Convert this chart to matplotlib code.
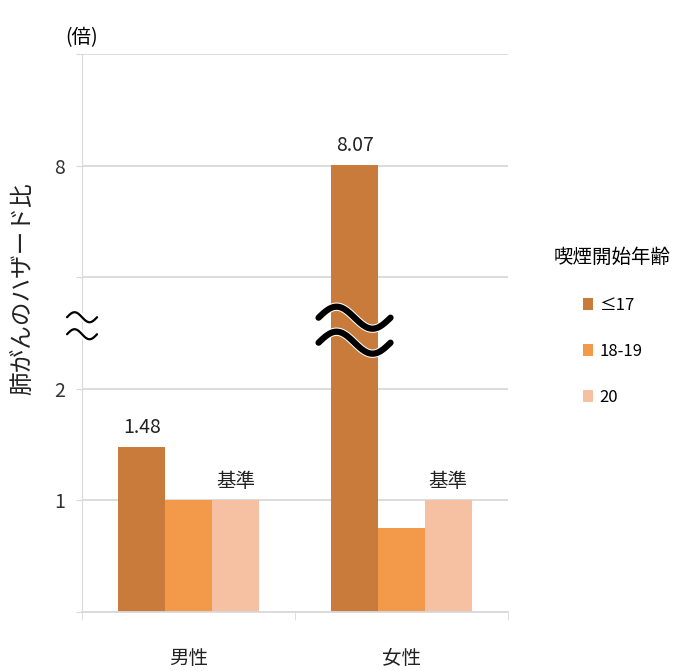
import numpy as np
import matplotlib.pyplot as plt
import matplotlib.patheffects as pe
from matplotlib.transforms import ScaledTranslation, blended_transform_factory

plt.rcParams['font.family'] = ['Noto Sans CJK JP', 'DejaVu Sans']

# データ
grupos = ['男性', '女性']
edades = ['≤17', '18-19', '20']
hr_hombres = [1.48, 1.0, 1.0]
hr_mujeres = [8.07, 0.75, 1.0]
etiquetas_hombres = ['1.48', '', '基準']
etiquetas_mujeres = ['8.07', '', '基準']
colores = ['#C97B3C', '#F2994A', '#F6C0A2']

ticks_y = [0, 1, 2, 6, 8, 16]
ticks_y_txt = ['', '1', '2', '', '8', '']


# eje con corte: 0-2 lineal, 2-6 y 6-8 comprimidos, 8-16 en un solo tramo
def adelante(v):
    v = np.asarray(v, dtype=float)
    return np.where(v <= 2, v,
                    np.where(v <= 6, 2 + (v - 2) / 4,
                             np.where(v <= 8, 3 + (v - 6) / 2, 4 + (v - 8) / 8)))


def inversa(u):
    u = np.asarray(u, dtype=float)
    return np.where(u <= 2, u,
                    np.where(u <= 3, 2 + (u - 2) * 4,
                             np.where(u <= 4, 6 + (u - 3) * 2, 8 + (u - 4) * 8)))


fig = plt.figure(figsize=(6.78, 6.71), dpi=100)
ax = fig.add_axes([0.121, 0.088, 0.628, 0.8315])
ax.set_yscale('function', functions=(adelante, inversa))
ax.set_ylim(0, 16)
ax.set_xlim(0, 2)

ancho = 0.22
centros = np.array([0.5, 1.5])
gris = '#d9d9d9'

for i, edad in enumerate(edades):
    xs = centros + (i - 1) * ancho
    vals = [hr_hombres[i], hr_mujeres[i]]
    ax.bar(xs, vals, width=ancho, color=colores[i], label=edad, zorder=2)
    for x, v, t in zip(xs, vals, [etiquetas_hombres[i], etiquetas_mujeres[i]]):
        if t:
            ax.annotate(t, (x, v), xytext=(0, 6), textcoords='offset points',
                        ha='center', va='bottom', fontsize=14, color='#222222')

# rejilla y ejes
ax.set_yticks(ticks_y, ticks_y_txt)
ax.set_yticks([], minor=True)
ax.grid(axis='y', color=gris, linewidth=1.3, zorder=0)
ax.tick_params(axis='y', length=4, color=gris, pad=8, labelsize=14, labelcolor='#333333')
ax.set_xticks(centros, grupos)
ax.set_xticks([0, 1, 2], minor=True)
ax.tick_params(axis='x', which='major', length=0, pad=26, labelsize=14, labelcolor='#222222')
ax.tick_params(axis='x', which='minor', length=6, color=gris)
for lado in ['top', 'right']:
    ax.spines[lado].set_visible(False)
ax.spines['left'].set_color(gris)
ax.spines['bottom'].set_color(gris)
ax.spines['bottom'].set_linewidth(1.3)

ax.set_ylabel('肺がんのハザード比', fontsize=17, color='#222222')
ax.yaxis.set_label_coords(-0.112, 0.58)
ax.text(0, 1.03, '(倍)', transform=ax.transAxes, ha='center', va='center', fontsize=14)

# simbolos de corte del eje (≈)
t = np.linspace(0, 1, 60)


def onda(x0, y0, trans, ancho_in, amp_in, sep_in, lw, borde):
    base = fig.dpi_scale_trans + ScaledTranslation(x0, y0, trans)
    for k in (-0.5, 0.5):
        xx = (t - 0.5) * ancho_in
        yy = amp_in * np.sin(2 * np.pi * t) - k * sep_in
        ax.plot(xx, yy, transform=base, color='black', lw=lw, clip_on=False, zorder=5,
                solid_capstyle='round',
                path_effects=[pe.Stroke(linewidth=lw + borde, foreground='white'), pe.Normal()])


onda(0, 0.513, ax.transAxes, 0.30, 0.05, 0.17, 1.6, 3)
onda(centros[1] - ancho, 0.505, blended_transform_factory(ax.transData, ax.transAxes),
     0.72, 0.11, 0.25, 4.5, 1.5)

ax.legend(title='喫煙開始年齢', loc='upper left', bbox_to_anchor=(0.795, 0.655),
          bbox_transform=fig.transFigure, frameon=False, fontsize=12, title_fontsize=14,
          handlelength=0.6, handleheight=0.7, handletextpad=0.4, labelspacing=1.75)

fig.savefig('out.png', dpi=100)
